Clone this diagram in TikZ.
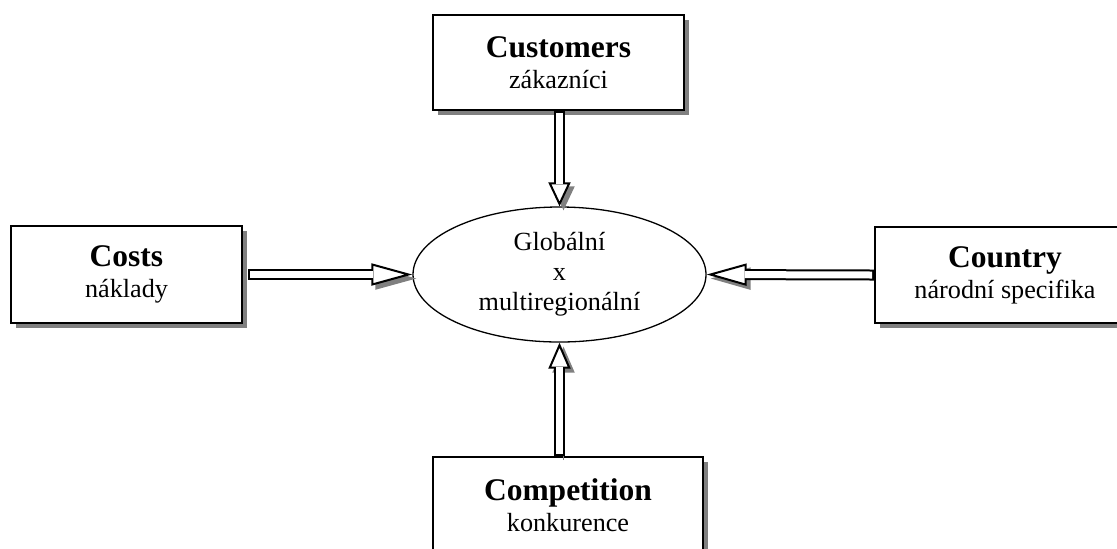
\documentclass[tikz,border=0pt]{standalone}
\usepackage{fontspec}
\setmainfont{Liberation Serif}
\usetikzlibrary{arrows.meta,shapes.geometric}

\definecolor{shade}{gray}{0.5}
\pgfdeclarelayer{back}
\pgfsetlayers{back,main}

\newcommand\factorname[1]{{\fontsize{15.75}{18}\selectfont\bfseries #1}}

\tikzset{
  factor/.style={draw, line width=1pt, fill=white, align=center, inner sep=0pt,
    font=\fontsize{13.1}{15.5}\selectfont,
    preaction={fill=shade, transform canvas={shift={(2.5pt,-2.5pt)}}}},
  core/.style={ellipse, draw, line width=0.65pt, fill=white, align=center, inner sep=0pt,
    minimum width=146.5pt, minimum height=67.5pt,
    font=\fontsize{13.1}{15}\selectfont},
  feed/.style={draw=black, line width=5.5pt,
    -{Triangle[length=#1, width=11pt, line width=1pt, fill=white]},
    preaction={draw=shade, transform canvas={shift={(2pt,-2pt)}},
      -{Triangle[length=#1, width=11pt, line width=1pt, fill=shade]}},
    postaction={draw=white, line width=3.5pt, arrows=-, shorten >=#1-1pt, shorten <=1pt}},
}

\begin{document}
\begin{tikzpicture}[x=0.5pt, y=-0.5pt]
	\useasboundingbox (0,0) rectangle (1117,548);
	\clip (0,0) rectangle (1117,548);
	% the four C
	\node[factor, minimum width=125.5pt, minimum height=47.5pt] (customers) at (558.5,62.5) {\factorname{Customers}\\zákazníci};
	\node[factor, minimum width=115.5pt, minimum height=48.5pt] (costs) at (126.5,274.5) {\factorname{Costs}\\náklady};
	\node[factor, minimum width=130pt, minimum height=48pt] (country) at (1005,275) {\factorname{Country}\\národní specifika};
	\node[factor, minimum width=135pt, minimum height=48pt] (competition) at (568,505) {\factorname{Competition}\\konkurence};
	\node[core] (core) at (559.5,274.5) {Globální\\x\\multiregionální};
	% arrows
	\draw[feed=12pt] (customers.south -| core.north) -- (core.north);
	\draw[feed=20.5pt] ([xshift=2.5pt]costs.east) -- (core.west);
	\draw[feed=13pt] (competition.north -| core.south) -- (core.south);
	\begin{pgfonlayer}{back}
	\draw[feed=20pt] (country.west) -- (core.east);
	\end{pgfonlayer}
\end{tikzpicture}
\end{document}
